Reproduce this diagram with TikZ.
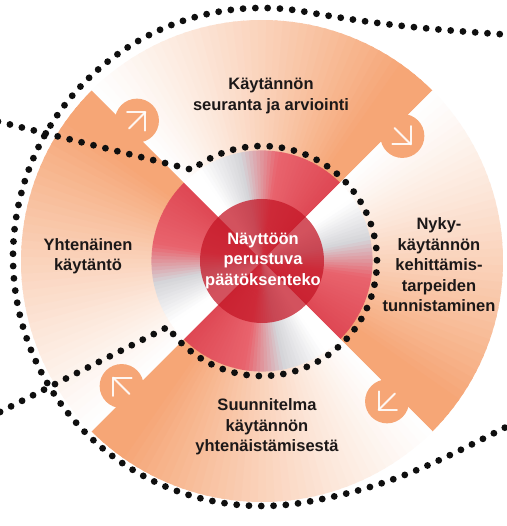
\documentclass[tikz,border=0pt]{standalone}
\usepackage{fontspec}
\setmainfont{Liberation Sans}
\definecolor{orng}{RGB}{246,166,118}
\definecolor{txtdark}{RGB}{28,24,24}
\definecolor{dotblack}{RGB}{15,15,15}
\definecolor{discred}{RGB}{196,22,38}
\begin{document}
\begin{tikzpicture}[x=1pt,y=1pt,
  lbl/.style={align=center,font=\fontsize{16.5}{20.5}\selectfont\bfseries,text=txtdark,inner sep=0pt},
  ctr/.style={lbl,text=white},
  dotline/.style={draw=dotblack,line width=6.8pt,line cap=round,dash pattern=on 0pt off 12.3pt},
  tabcirc/.style={fill=orng},
  tabarrow/.style={draw=white,opacity=0.9,line width=2pt,line cap=round,line join=round}]
\useasboundingbox (-262,-265) rectangle (244,261);
\fill[white] (-262,-265) rectangle (244,261);
% sectors with angular gradient (start = white, end = colour)
\foreach \s in {135,45,-45,-135}{
  \foreach \i in {0,...,44}{
    \pgfmathsetmacro\ta{\s-2*\i}
    \pgfmathsetmacro\tb{\s-2*\i-2-ifthenelse(\i<44,0.7,0)}
    \pgfmathsetmacro\tpar{(\i+0.5)/45}
    \pgfmathsetmacro\g{(min(1,\tpar/0.9))^1.2}
    \pgfmathtruncatemacro\oR{255-9*\g}
    \pgfmathtruncatemacro\oG{255-89*\g}
    \pgfmathtruncatemacro\oB{255-137*\g}
    \pgfmathsetmacro\ua{min(max((\tpar-0.12)/0.25,0),1)}
    \pgfmathsetmacro\ub{min(max((\tpar-0.37)/0.23,0),1)}
    \pgfmathsetmacro\uc{min(max((\tpar-0.60)/0.40,0),1)}
    \pgfmathtruncatemacro\iR{255-42*\ua+20*\ub-10*\uc}
    \pgfmathtruncatemacro\iG{255-42*\ua-113*\ub-28*\uc}
    \pgfmathtruncatemacro\iB{255-38*\ua-107*\ub-26*\uc}
    \fill[fill={rgb,255:red,\oR;green,\oG;blue,\oB}] (\ta:110) -- (\ta:241) arc[start angle=\ta,end angle=\tb,radius=241] -- (\tb:110) arc[start angle=\tb,end angle=\ta,radius=110] -- cycle;
    \fill[fill={rgb,255:red,\iR;green,\iG;blue,\iB}] (0,0) -- (\ta:110.6) arc[start angle=\ta,end angle=\tb,radius=110.6] -- cycle;
  }
}
% tabs with arrows
\foreach \e in {45,-45,-135,135}{
  \pgfmathsetmacro\ang{\e-3.3}
  \pgfmathsetmacro\rot{\e-90}
  \fill[tabcirc] (\ang:188) circle[radius=22];
  \begin{scope}[shift={(\ang:188)},rotate=\rot]
    \draw[tabarrow] (-11,0) -- (12,0);
    \draw[tabarrow] (-1,13) -- (12,0) -- (-1,-13);
  \end{scope}
}
% central disc
\fill[discred,opacity=0.74] (0,0) circle[radius=62];
% dotted lines
\coordinate (otopR) at (250,226);
\coordinate (obotR) at (250,-163);
\coordinate (otop) at ([shift={(0,4)}]80:249);
\coordinate (ilU) at (-264,139.5);
\coordinate (ilL) at (-264,-152);
\draw[dotline] (otopR) to[out=176,in=-10] (otop) arc[start angle=80,end angle=280,radius=249] to[out=10,in=207] (obotR);
\draw[dotline] (ilU) -- (127.5:115) arc[start angle=127.5,end angle=-145,radius=115] -- (ilL);
% labels
\node[lbl] (top) at (9,165) {Käytännön\\seuranta ja arviointi};
\node[lbl] (left) at (-174,5) {Yhtenäinen\\käytäntö};
\node[lbl] (right) at (177,-4) {Nyky-\\käytännön\\kehittämis-\\tarpeiden\\tunnistaminen};
\node[lbl] (bottom) at (5,-166) {Suunnitelma\\käytännön\\yhtenäistämisestä};
\node[ctr] (center) at (1,0) {Näyttöön\\perustuva\\päätöksenteko};
\end{tikzpicture}
\end{document}
